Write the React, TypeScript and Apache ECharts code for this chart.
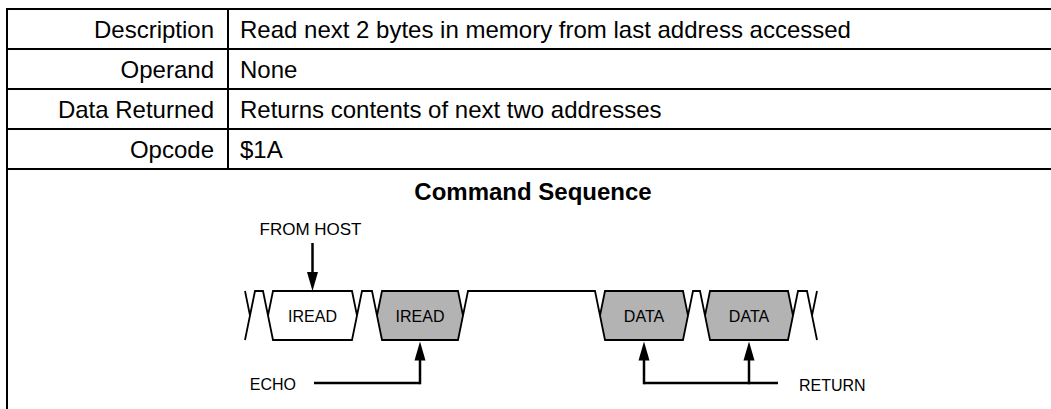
import React, { useEffect, useRef } from "react";
import * as echarts from "echarts";

// ---- table content ----
const rowLabels = ["Description", "Operand", "Data Returned", "Opcode"];
const rowValues = [
  "Read next 2 bytes in memory from last address accessed",
  "None",
  "Returns contents of next two addresses",
  "$1A",
];
const sectionTitle = "Command Sequence";

// ---- timing diagram content (time units) ----
const frameLabels = ["", "IREAD", "IREAD", "DATA", "DATA", ""];
const frameStart: (number | null)[] = [null, 2.8, 13.7, 36.0, 46.5, 57.2];
const frameEnd: (number | null)[] = [1.0, 11.7, 22.3, 44.8, 55.3, null];
const frameSource = ["partial", "host", "target", "target", "target", "partial"];

const arrowLabels = ["FROM HOST", "ECHO", "RETURN"];
const arrowTargets = [[1], [2], [3, 4]];
const arrowSides = ["above", "below", "below"];

// ---- layout / style constants ----
const W = 1051;
const H = 409;
const TABLE_LEFT = 7;
const TABLE_TOP = 9;
const ROW_H = 40;
const COL_X = 228;
const FONT = "'Liberation Sans', Arial, Helvetica, sans-serif";
const GRAY = "#b3b3b3";
const SLANT = 5;

const textStyle = (text: string, x: number, y: number, align: string, size: number, weight = "normal") => ({
  text,
  x,
  y,
  fill: "#000",
  font: `${weight} ${size}px ${FONT}`,
  fontSize: size,
  fontFamily: FONT,
  fontWeight: weight,
  align,
  textAlign: align,
  verticalAlign: "middle",
  textVerticalAlign: "middle",
});

function buildTableGraphics() {
  const els: any[] = [];
  const lineStyle = { stroke: "#000", lineWidth: 2 };
  const bottomRow = TABLE_TOP + ROW_H * rowLabels.length;
  for (let i = 0; i <= rowLabels.length; i++) {
    const y = TABLE_TOP + ROW_H * i;
    els.push({ type: "line", shape: { x1: TABLE_LEFT - 1, y1: y, x2: W, y2: y }, style: lineStyle });
  }
  els.push({ type: "line", shape: { x1: TABLE_LEFT, y1: TABLE_TOP - 1, x2: TABLE_LEFT, y2: H }, style: lineStyle });
  els.push({ type: "line", shape: { x1: COL_X, y1: TABLE_TOP, x2: COL_X, y2: bottomRow }, style: lineStyle });
  rowLabels.forEach((lab, i) => {
    const cy = TABLE_TOP + ROW_H * i + ROW_H / 2 + 0.5;
    els.push({ type: "text", style: textStyle(lab, COL_X - 14, cy, "right", 24) });
    els.push({ type: "text", style: textStyle(rowValues[i], COL_X + 12, cy, "left", 24) });
  });
  els.push({ type: "text", style: textStyle(sectionTitle, 533, bottomRow + 22, "center", 24, "bold") });
  return els;
}

const frameData = frameLabels.map((_, i) => [frameStart[i] ?? frameEnd[i], frameEnd[i] ?? frameStart[i], 0.5]);
const arrowData = arrowLabels.map((_, i) => [i, 0.5]);

function renderFrame(params: any, api: any) {
  const i = params.dataIndex;
  const T = api.coord([0, 1])[1];
  const B = api.coord([0, 0])[1];
  const M = (T + B) / 2;
  const s = SLANT;
  const children: any[] = [];
  const xs = frameStart[i] != null ? api.coord([frameStart[i], 0])[0] : null;
  const xe = frameEnd[i] != null ? api.coord([frameEnd[i], 0])[0] : null;
  const stroke = { stroke: "#000", lineWidth: 1.8, fill: null };
  if (xs == null && xe != null) {
    children.push({ type: "polyline", shape: { points: [[xe - s, T], [xe, M], [xe - s, B]] }, style: stroke });
  } else if (xe == null && xs != null) {
    children.push({ type: "polyline", shape: { points: [[xs + s, T], [xs, M], [xs + s, B]] }, style: stroke });
  } else if (xs != null && xe != null) {
    children.push({
      type: "polygon",
      shape: { points: [[xs, M], [xs + s, T], [xe - s, T], [xe, M], [xe - s, B], [xs + s, B]] },
      style: { fill: frameSource[i] === "host" ? "#fff" : GRAY, stroke: "#000", lineWidth: 1.8 },
    });
    children.push({ type: "text", style: textStyle(frameLabels[i], (xs + xe) / 2, M + 1, "center", 16) });
  }
  if (xe != null && i + 1 < frameLabels.length && frameStart[i + 1] != null) {
    const xn = api.coord([frameStart[i + 1], 0])[0];
    children.push({
      type: "polyline",
      shape: { points: [[xe, M], [xe + s, T], [xn - s, T], [xn, M]] },
      style: stroke,
    });
  }
  return { type: "group", children };
}

function renderArrow(params: any, api: any) {
  const i = params.dataIndex;
  const T = api.coord([0, 1])[1];
  const B = api.coord([0, 0])[1];
  const centers = arrowTargets[i].map((f) => {
    const a = api.coord([frameStart[f], 0])[0];
    const b = api.coord([frameEnd[f], 0])[0];
    return (a + b) / 2;
  });
  const children: any[] = [];
  const shaft = { stroke: "#000", lineWidth: 2.5 };
  const headW = 5.5;
  const headH = 19;
  if (arrowSides[i] === "above") {
    const x = centers[0];
    children.push({ type: "line", shape: { x1: x, y1: T - 48, x2: x, y2: T - headH + 1 }, style: shaft });
    children.push({
      type: "polygon",
      shape: { points: [[x - headW, T - headH], [x + headW, T - headH], [x, T]] },
      style: { fill: "#000" },
    });
    children.push({ type: "text", style: textStyle(arrowLabels[i], x - 2, T - 61.5, "center", 17) });
  } else {
    const lineY = B + 43;
    const tip = B + 1.5;
    centers.forEach((x) => {
      children.push({ type: "line", shape: { x1: x, y1: lineY + 1.25, x2: x, y2: tip + headH - 1 }, style: shaft });
      children.push({
        type: "polygon",
        shape: { points: [[x - headW, tip + headH], [x + headW, tip + headH], [x, tip]] },
        style: { fill: "#000" },
      });
    });
    if (centers.length === 1) {
      const x = centers[0];
      const x0 = x - 106;
      children.push({ type: "line", shape: { x1: x0, y1: lineY, x2: x, y2: lineY }, style: shaft });
      children.push({ type: "text", style: textStyle(arrowLabels[i], x0 - 18, lineY + 1, "right", 16) });
    } else {
      const x0 = centers[0];
      const x1 = centers[centers.length - 1] + 29;
      children.push({ type: "line", shape: { x1: x0, y1: lineY, x2: x1, y2: lineY }, style: shaft });
      children.push({ type: "text", style: textStyle(arrowLabels[i], x1 + 21, lineY + 2, "left", 16) });
    }
  }
  return { type: "group", children };
}

export default function App() {
  const ref = useRef<HTMLDivElement>(null);
  useEffect(() => {
    if (!ref.current) return;
    const chart = echarts.init(ref.current, null, { renderer: "svg" });
    chart.setOption({
      animation: false,
      backgroundColor: "#fff",
      grid: { left: 240, top: 291, width: 580, height: 49 },
      xAxis: { type: "value", min: 0, max: 58, show: false },
      yAxis: { type: "value", min: 0, max: 1, show: false },
      graphic: { elements: buildTableGraphics() },
      series: [
        {
          type: "custom",
          coordinateSystem: "cartesian2d",
          silent: true,
          clip: false,
          renderItem: renderFrame,
          data: frameData,
        },
        {
          type: "custom",
          coordinateSystem: "cartesian2d",
          silent: true,
          clip: false,
          renderItem: renderArrow,
          data: arrowData,
        },
      ],
    });
    return () => chart.dispose();
  }, []);
  return (
    <div
      ref={ref}
      style={{ position: "absolute", left: 0, top: 0, width: W, height: H, background: "#fff" }}
    />
  );
}
